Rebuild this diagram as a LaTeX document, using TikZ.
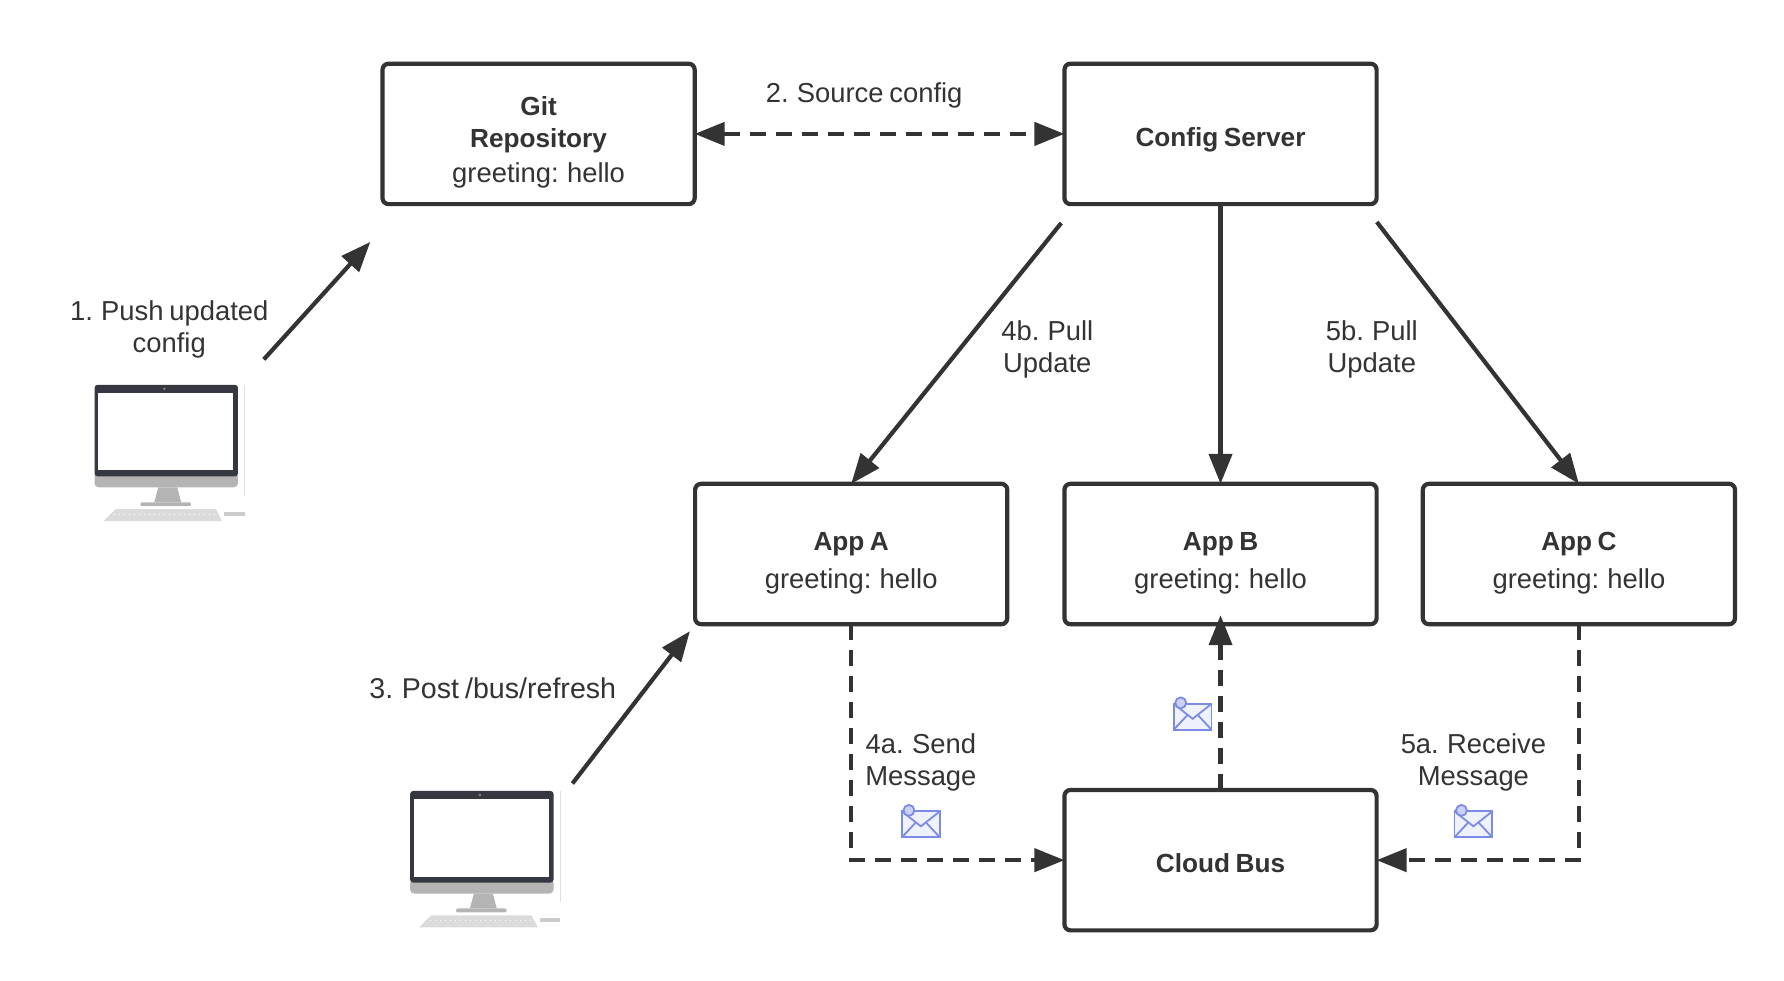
\documentclass[tikz,border=0pt]{standalone}
\usepackage{fontspec}
\setmainfont[WordSpace=0.75]{Liberation Sans}
\usetikzlibrary{arrows.meta}
\definecolor{ink}{HTML}{333333}
\definecolor{mailblue}{HTML}{7C8CE6}
\definecolor{monitor}{HTML}{353741}
\definecolor{chin}{HTML}{B4B4B4}
\newcommand{\boxlines}[2]{\raisebox{#1}[\height][\depth]{\begin{tabular}{@{}c@{}}#2\end{tabular}}}
\newcommand{\boxline}[2]{\raisebox{#1}[\height][\depth]{#2}}
\newcommand{\bfl}[1]{{\fontsize{13.1}{16}\selectfont\bfseries #1}}
\tikzset{
  x=0.4978pt,y=-0.4978pt,
  every node/.style={text=ink,font=\fontsize{13.7}{16}\selectfont,inner sep=0pt,outer sep=0pt},
  box/.style={draw=ink,line width=2.1pt,rounded corners=3pt,fill=white,minimum width=156.1pt,minimum height=70.2pt,align=center},
  lbl/.style={align=center},
  solidarrow/.style={draw=ink,line width=2.1pt,-{Triangle[length=15pt,width=11.5pt]}},
  dasharrow/.style={solidarrow,dash pattern=on 8pt off 5pt},
  computer/.pic={
    \draw[black!12,line width=.5pt] (151,0) -- (151,112);
    \fill[chin,rounded corners=2pt] (0,88) rectangle (144,103);
    \fill[monitor,rounded corners=1.5pt] (0,0) rectangle (144,92);
    \fill[white] (3.5,8) rectangle (139,86);
    \fill[gray] (70,4) circle (1.5);
    \fill[chin] (64,103) -- (83,103) -- (87,118) -- (60,118) -- cycle;
    \fill[chin,rounded corners=1pt] (46,118) rectangle (97,122);
    \fill[black!14] (9,137) -- (21,125) -- (122,125) -- (128,137) -- cycle;
    \draw[white,dotted,line width=.5pt] (20,130) -- (122,130);
    \fill[black!20] (130,128) rectangle (151,132);
  },
  mail/.pic={
    \draw[mailblue,line width=.9pt,fill=mailblue!12] (0,0) rectangle (38,26);
    \draw[mailblue,line width=.9pt] (0,0) -- (19,15) -- (38,0);
    \draw[mailblue,line width=.9pt] (0,26) -- (14,11) (38,26) -- (24,11);
    \draw[mailblue,line width=.9pt,fill=mailblue!40] (7,-1) circle (5.5);
  }
}
\begin{document}
\begin{tikzpicture}
\useasboundingbox (0,0) rectangle (1792,984.4);
% computers
\pic at (95,386.5) {computer};
\pic at (412,794.5) {computer};
% free ends
\coordinate (pushstart) at (265,361);
\coordinate (pushend) at (372,243);
\coordinate (poststart) at (575,787);
\coordinate (postend) at (693,634);
\coordinate (pullastart) at (1066,224);
\coordinate (pullcstart) at (1383,223);
% boxes
\node[box] (git) at (541,134.5) {\boxlines{-4.2pt}{\bfl{Git}\\\bfl{Repository}\\[1.5pt]greeting: hello}};
\node[box] (config) at (1226,134.5) {\boxline{-2.8pt}{\bfl{Config Server}}};
\node[box] (appa) at (855,556.5) {\boxlines{-4.7pt}{\bfl{App A}\\[3pt]greeting: hello}};
\node[box] (appb) at (1226,556.5) {\boxlines{-4.7pt}{\bfl{App B}\\[3pt]greeting: hello}};
\node[box] (appc) at (1586,556.5) {\boxlines{-4.7pt}{\bfl{App C}\\[3pt]greeting: hello}};
\node[box] (bus) at (1226,864) {\boxline{-1.4pt}{\bfl{Cloud Bus}}};
% connectors
\draw[dasharrow,{Triangle[length=15pt,width=11.5pt]}-{Triangle[length=15pt,width=11.5pt]}] (git.east) -- (config.west);
\draw[solidarrow] (pushstart) -- (pushend);
\draw[solidarrow] (poststart) -- (postend);
\draw[solidarrow] (pullastart) -- (appa.north);
\draw[solidarrow] (config.south) -- (appb.north);
\draw[solidarrow] (pullcstart) -- (appc.north);
\draw[dasharrow] (appa.south) |- (bus.west);
\draw[dasharrow,shorten >=-4.5pt] (bus.north) -- (appb.south);
\draw[dasharrow] (appc.south) |- (bus.east);
% labels
\node[lbl] (l1) at (170,331.3) {1. Push updated\\config};
\node[lbl] (l2) at (868,96.3) {2. Source config};
\node[lbl,font=\fontsize{14.3}{16}\selectfont] (l3) at (495,691) {3. Post /bus/refresh};
\node[lbl] (l4b) at (1052,351.3) {4b. Pull\\Update};
\node[lbl] (l5b) at (1378,351.3) {5b. Pull\\Update};
\node[lbl] (l4a) at (925,766.3) {4a. Send\\Message};
\node[lbl] (l5a) at (1480,766.3) {5a. Receive\\Message};
% envelopes
\pic at (906,815) {mail};
\pic at (1179,707) {mail};
\pic at (1461,815) {mail};
\end{tikzpicture}
\end{document}
